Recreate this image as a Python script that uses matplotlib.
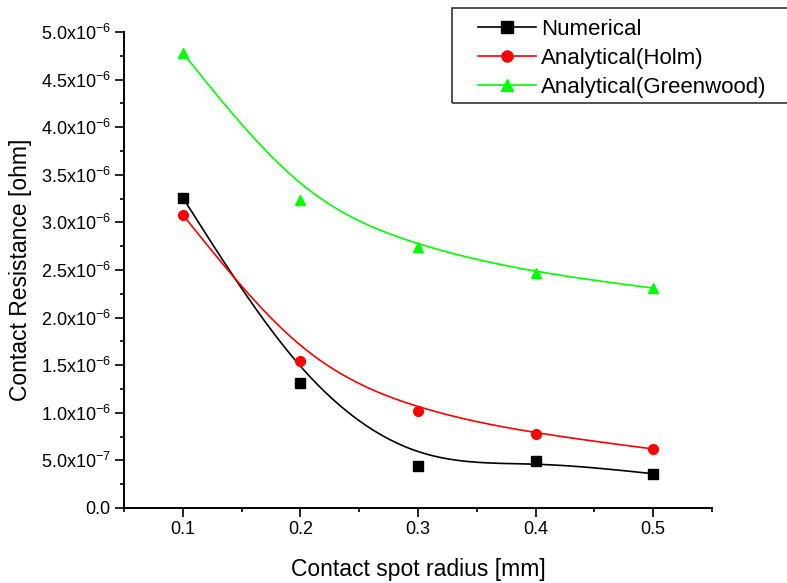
import numpy as np
import matplotlib
matplotlib.use("Agg")
from matplotlib import pyplot as plt
from matplotlib.ticker import MultipleLocator, FuncFormatter
from matplotlib.patches import Rectangle

radius = [0.1, 0.2, 0.3, 0.4, 0.5]
numerical = [3.26e-6, 1.31e-6, 0.44e-6, 0.49e-6, 0.36e-6]
holm = [3.08e-6, 1.54e-6, 1.02e-6, 0.78e-6, 0.62e-6]
greenwood = [4.78e-6, 3.24e-6, 2.74e-6, 2.47e-6, 2.31e-6]


def bspline(xs, ys, n=50):
	# uniform cubic B-spline, data points as control points,
	# phantom end points so the curve starts/ends on the data
	p = np.column_stack([xs, ys]).astype(float)
	q = np.vstack([2 * p[0] - p[1], p, 2 * p[-1] - p[-2]])
	t = np.linspace(0, 1, n)
	b0 = (1 - t) ** 3 / 6
	b1 = (3 * t ** 3 - 6 * t ** 2 + 4) / 6
	b2 = (-3 * t ** 3 + 3 * t ** 2 + 3 * t + 1) / 6
	b3 = t ** 3 / 6
	segs = []
	for j in range(len(q) - 3):
		seg = (b0[:, None] * q[j] + b1[:, None] * q[j + 1]
			+ b2[:, None] * q[j + 2] + b3[:, None] * q[j + 3])
		segs.append(seg)
	out = np.vstack(segs)
	return out[:, 0], out[:, 1]


def sci(v, pos):
	if abs(v) < 1e-12:
		return "0.0"
	e = int(np.floor(np.log10(abs(v)) + 1e-9))
	mant = v / 10 ** e
	return r"$\mathregular{%.1fx10^{%d}}$" % (mant, e)


plt.rcParams["font.family"] = ["Liberation Sans", "DejaVu Sans"]
plt.rcParams["mathtext.fontset"] = "custom"
plt.rcParams["mathtext.rm"] = "Liberation Sans"

W, H = 787, 583
fig = plt.figure(figsize=(W / 100, H / 100), dpi=100)
ax = fig.add_axes([124 / W, 1 - 508 / H, 588 / W, 476 / H])

series = [
	(numerical, "black", "s", "Numerical"),
	(holm, "#ff0000", "o", "Analytical(Holm)"),
	(greenwood, "#00ff00", "^", "Analytical(Greenwood)"),
]
for ys, c, mk, lab in series:
	sx, sy = bspline(radius, ys)
	ax.plot(sx, sy, color=c, lw=1.2)
	ax.plot(radius, ys, ls="none", marker=mk, color=c, ms=7)
	ax.plot([], [], color=c, lw=1.2, marker=mk, ms=8, label=lab)

ax.set_xlim(0.05, 0.55)
ax.set_ylim(0, 5.0e-6)
ax.xaxis.set_major_locator(MultipleLocator(0.1))
ax.xaxis.set_minor_locator(MultipleLocator(0.05))
ax.yaxis.set_major_locator(MultipleLocator(0.5e-6))
ax.yaxis.set_minor_locator(MultipleLocator(0.25e-6))
ax.xaxis.set_major_formatter(FuncFormatter(lambda v, p: "%.1f" % v))
ax.yaxis.set_major_formatter(FuncFormatter(sci))

for s in ["top", "right"]:
	ax.spines[s].set_visible(False)
for s in ["left", "bottom"]:
	ax.spines[s].set_linewidth(1.4)
ax.tick_params(which="major", direction="out", length=6.5, width=1.2, labelsize=13, pad=3)
ax.tick_params(which="minor", direction="out", length=3, width=1.2)

ax.set_xlabel("Contact spot radius [mm]", fontsize=16.5, labelpad=14)
ax.set_ylabel("Contact Resistance [ohm]", fontsize=16.5, labelpad=6)

# legend frame runs off the right edge, as in the original
fig.patches.append(Rectangle((452 / W, 1 - 103 / H), 345 / W, 95 / H,
	transform=fig.transFigure, fill=False, edgecolor="#333333", lw=1.2))
leg = fig.legend(loc="upper left", bbox_to_anchor=(478 / W, 1 - 19 / H),
	fontsize=16, frameon=False, handlelength=2.6,
	borderpad=0, labelspacing=0.36, handletextpad=0.25, borderaxespad=0)

fig.savefig("out.png", dpi=100)
